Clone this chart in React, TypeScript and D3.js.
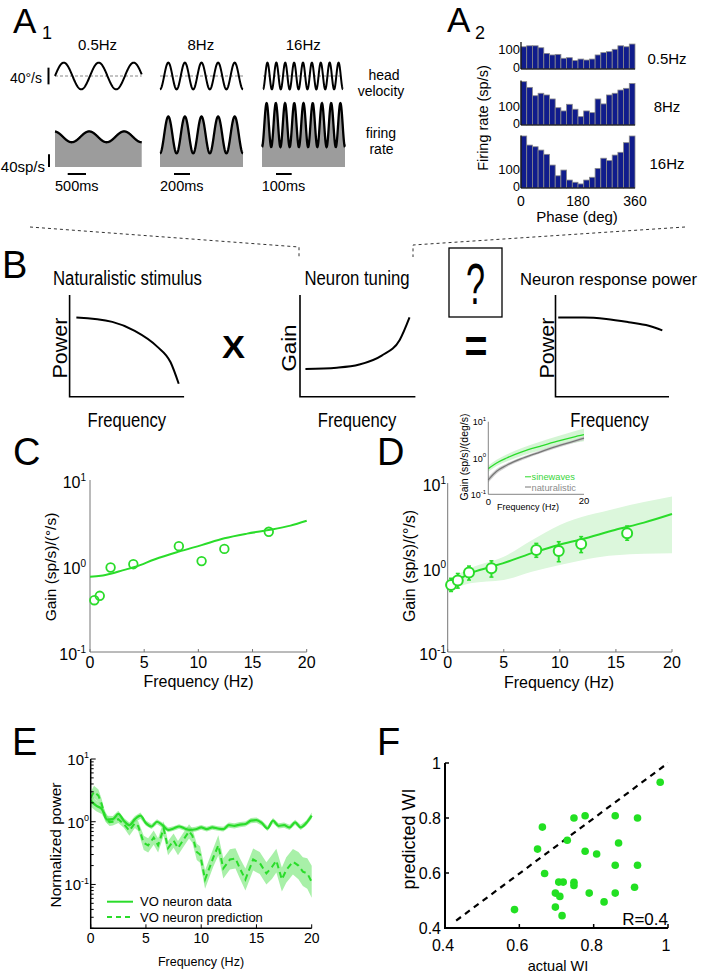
import React, { useRef, useEffect } from 'react';
import * as d3 from 'd3';

const FONT = '"Liberation Sans", Arial, Helvetica, sans-serif';
const GREEN = '#2adc2a';

// A1: stimulus (head velocity) and fitted firing rate per stimulus frequency
const a1Titles = ['0.5Hz', '8Hz', '16Hz'];
const a1Cycles = [2.48, 5, 9];
const a1VelAmp = [32, 32, 32]; // deg/s
const a1VelPhase = [0, -Math.PI / 2, -Math.PI / 2];
const a1RateMean = [95, 101, 132]; // sp/s
const a1RateAmp = [17, 58, 69];
const a1RatePhase = [1.71, -Math.PI / 2, -Math.PI / 2];
const a1TimeBars = ['500ms', '200ms', '100ms'];

// A2: phase histograms, 20 bins of 18 deg
const a2Titles = ['0.5Hz', '8Hz', '16Hz'];
const phaseTicks = [0, 180, 360];
const hist05 = [114, 119, 119, 109, 80, 72, 75, 55, 58, 43, 51, 46, 51, 72, 84, 89, 101, 119, 114, 128];
const hist8 = [228, 198, 154, 167, 158, 137, 91, 74, 109, 83, 44, 74, 65, 137, 111, 158, 167, 184, 193, 219];
const hist16 = [281, 232, 223, 205, 182, 124, 66, 97, 43, 31, 22, 43, 58, 106, 161, 148, 178, 193, 245, 281];

// B: schematic curves (normalised units)
const bStimX = [0.059, 0.373, 0.569, 0.765, 0.882, 0.953];
const bStimY = [0.78, 0.736, 0.648, 0.493, 0.339, 0.128];
const bTuneX = [0.047, 0.319, 0.514, 0.708, 0.864, 0.949];
const bTuneY = [0.273, 0.286, 0.317, 0.405, 0.559, 0.78];
const bRespX = [0.024, 0.249, 0.447, 0.644, 0.822, 0.941];
const bRespY = [0.778, 0.778, 0.764, 0.733, 0.698, 0.653];

// C: example neuron gain
const cFreq = [0.4, 0.9, 1.9, 4.0, 8.2, 10.3, 12.4, 16.5];
const cGain = [0.40, 0.45, 0.96, 1.05, 1.7, 1.14, 1.58, 2.5];
const cFitFreq = [0, 1, 2, 3, 4.2, 6, 8.2, 10.3, 12.4, 14.5, 16.5, 18.5, 20];
const cFitGain = [0.75, 0.77, 0.82, 0.89, 0.98, 1.2, 1.47, 1.75, 2.1, 2.38, 2.62, 2.95, 3.36];

// D: population gain
const dFreq = [0.3, 0.9, 1.9, 3.9, 7.9, 9.9, 11.9, 16];
const dGain = [0.62, 0.70, 0.87, 0.98, 1.61, 1.57, 1.9, 2.54];
const dLow = [0.52, 0.57, 0.71, 0.77, 1.32, 1.17, 1.5, 2.1];
const dHigh = [0.745, 0.85, 1.04, 1.2, 1.93, 2.02, 2.32, 3.1];
const dFitFreq = [0, 0.9, 1.9, 3.9, 4.9, 7.9, 9.9, 11.9, 14.9, 17.5, 20];
const dFitGain = [0.59, 0.71, 0.84, 1.02, 1.12, 1.54, 1.85, 2.15, 2.78, 3.4, 4.3];
const dBandFreq = [0, 2, 5, 7.5, 10, 15, 20];
const dBandLow = [0.52, 0.65, 0.71, 0.89, 1.07, 1.4, 1.47];
const dBandHigh = [0.71, 0.98, 1.34, 2.1, 3.18, 5.0, 6.9];

// D inset
const insFreq = [0, 1.74, 3.83, 7.3, 10.8, 14.3, 17.8, 20];
const insSine = [0.51, 0.73, 1.0, 1.52, 2.1, 2.87, 3.78, 4.39];
const insSineLow = [0.42, 0.6, 0.8, 1.2, 1.6, 2.1, 2.6, 2.9];
const insSineHigh = [0.62, 0.9, 1.25, 1.95, 2.8, 3.9, 5.4, 6.5];
const insNat = [0.25, 0.43, 0.63, 1.0, 1.46, 2.1, 2.87, 3.55];
const insNatLow = [0.21, 0.37, 0.56, 0.9, 1.32, 1.9, 2.6, 3.15];
const insNatHigh = [0.3, 0.5, 0.71, 1.1, 1.62, 2.3, 3.15, 4.0];

// E: normalized power spectra
const eFreq = [0, 0.5, 1, 1.5, 2, 2.5, 3, 3.5, 4, 4.5, 5, 5.5, 6, 6.5, 7, 7.5, 8, 8.5, 9, 9.5, 10,
  10.5, 11, 11.5, 12, 12.5, 13, 13.5, 14, 14.5, 15, 15.5, 16, 16.5, 17, 17.5, 18, 18.5, 19, 19.5, 20];
const eData = [2.17, 1.8, 1.6, 1.08, 1.1, 1.33, 1.04, 0.88, 1.1, 1.25,
  0.95, 0.84, 1.0, 0.88, 0.74, 0.78, 0.84, 0.78, 0.74, 0.76,
  0.81, 0.76, 0.81, 0.78, 0.76, 0.88, 0.86, 0.9, 0.92, 1.04,
  1.06, 0.95, 0.78, 1.04, 0.86, 0.88, 0.81, 0.98, 0.81, 0.95, 1.25];
const eDataSpread = [1.25, 1.22, 1.2, 1.15, 1.12, 1.12, 1.1, 1.1, 1.12, 1.12,
  1.1, 1.1, 1.1, 1.1, 1.09, 1.09, 1.09, 1.09, 1.09, 1.09,
  1.09, 1.09, 1.09, 1.09, 1.09, 1.1, 1.1, 1.1, 1.1, 1.1,
  1.1, 1.1, 1.1, 1.1, 1.1, 1.1, 1.1, 1.1, 1.1, 1.1, 1.12];
const ePredFreq = [0, 0.3, 0.7, 1.0, 1.3, 1.7, 2.0, 2.5, 3.0, 3.5,
  4.0, 4.3, 4.8, 5.2, 5.7, 6.1, 6.6, 7.0, 7.5, 7.9,
  8.4, 8.9, 9.2, 9.6, 9.9, 10.35, 11.1, 11.55, 12.0, 12.6,
  13.1, 13.5, 14.0, 14.7, 15.3, 15.9, 16.4, 16.8, 17.3, 17.7,
  18.3, 18.8, 19.2, 19.6, 20];
const ePred = [2.4, 3.0, 2.6, 1.9, 1.2, 0.98, 1.0, 1.1, 0.92, 0.72,
  0.95, 0.85, 0.46, 0.42, 0.56, 0.42, 0.78, 0.38, 0.5, 0.38,
  0.52, 0.7, 0.6, 0.33, 0.3, 0.12, 0.27, 0.42, 0.18, 0.25,
  0.26, 0.18, 0.12, 0.25, 0.22, 0.15, 0.19, 0.24, 0.12, 0.17,
  0.23, 0.2, 0.16, 0.15, 0.11];
const ePredSpread = [1.25, 1.25, 1.25, 1.2, 1.18, 1.15, 1.15, 1.15, 1.15, 1.2,
  1.2, 1.2, 1.3, 1.3, 1.3, 1.3, 1.3, 1.3, 1.3, 1.3,
  1.3, 1.3, 1.3, 1.35, 1.35, 1.4, 1.4, 1.45, 1.45, 1.45,
  1.45, 1.45, 1.5, 1.5, 1.5, 1.5, 1.55, 1.55, 1.55, 1.6,
  1.6, 1.65, 1.7, 1.75, 1.8];
const eXTicks = [0, 5, 10, 15, 20];

// F: actual vs predicted WI
const fActual = [0.979, 0.662, 0.747, 0.777, 0.858, 0.918, 0.649, 0.729, 0.777, 0.808, 0.867, 0.668, 0.858, 0.918,
  0.706, 0.718, 0.747, 0.747, 0.697, 0.709, 0.788, 0.858, 0.91, 0.828, 0.697, 0.715, 0.587];
const fPredicted = [0.93, 0.767, 0.8, 0.808, 0.808, 0.8, 0.687, 0.719, 0.679, 0.669, 0.709, 0.598, 0.628, 0.628,
  0.567, 0.567, 0.566, 0.555, 0.527, 0.515, 0.527, 0.527, 0.548, 0.495, 0.476, 0.445, 0.467];
const fTicks = [0.4, 0.6, 0.8, 1];

type G = d3.Selection<SVGGElement, unknown, null, undefined>;

const addText = (g: G, x: number, y: number, s: string, size: number, anchor = 'start', fill = '#000') =>
  g.append('text').attr('x', x).attr('y', y).attr('font-size', size)
    .attr('text-anchor', anchor).attr('fill', fill).text(s);

const addVText = (g: G, cx: number, cy: number, s: string, size: number) =>
  g.append('text').attr('transform', `translate(${cx},${cy}) rotate(-90)`)
    .attr('text-anchor', 'middle').attr('dominant-baseline', 'central')
    .attr('font-size', size).text(s);

const addPow = (g: G, x: number, y: number, exp: string, size: number, sup: number) => {
  const t = g.append('text').attr('x', x).attr('y', y).attr('font-size', size).attr('text-anchor', 'end');
  t.append('tspan').text('10');
  t.append('tspan').attr('font-size', sup).attr('dy', -size * 0.45).text(exp);
  return t;
};

const App: React.FC = () => {
  const ref = useRef<SVGSVGElement>(null);

  useEffect(() => {
    const root = d3.select(ref.current);
    root.selectAll('*').remove();
    const svg = root.append('g').attr('font-family', FONT) as unknown as G;

    // ---------- A1 ----------
    const a1 = svg.append('g');
    addText(a1, 13, 33, 'A', 35);
    addText(a1, 42, 39, '1', 18);
    const velX = [[55, 141.7], [160, 243], [263, 343]];
    const rateX = [[55, 141.7], [160, 243], [262, 345]];
    const titleX = [97.5, 200.8, 303.3];
    const barX = [[67.7, 86], [174, 190], [276, 291.7]];
    const barLabelX = [55, 160, 261.7];
    const velY = d3.scaleLinear().domain([-40, 40]).range([92.7, 59.3]);
    const rateY = d3.scaleLinear().domain([0, 40]).range([167, 154.3]);
    a1Titles.forEach((t, i) => {
      addText(a1, titleX[i], 50, t, 15, 'middle');
      const ts = d3.range(401).map(k => (k / 400) * a1Cycles[i]);
      const vx = d3.scaleLinear().domain([0, a1Cycles[i]]).range(velX[i]);
      const rx = d3.scaleLinear().domain([0, a1Cycles[i]]).range(rateX[i]);
      a1.append('line').attr('x1', velX[i][0]).attr('x2', velX[i][1])
        .attr('y1', velY(0)).attr('y2', velY(0))
        .attr('stroke', '#888').attr('stroke-dasharray', '3,2').attr('stroke-width', 1);
      const vel = (u: number) => a1VelAmp[i] * Math.sin(2 * Math.PI * u + a1VelPhase[i]);
      a1.append('path').datum(ts)
        .attr('d', d3.line<number>().x(u => vx(u)).y(u => velY(vel(u))))
        .attr('fill', 'none').attr('stroke', '#000').attr('stroke-width', 2);
      const rate = (u: number) => a1RateMean[i] + a1RateAmp[i] * Math.sin(2 * Math.PI * u + a1RatePhase[i]);
      a1.append('path').datum(ts)
        .attr('d', d3.area<number>().x(u => rx(u)).y0(rateY(0)).y1(u => rateY(rate(u)) - 1))
        .attr('fill', '#9c9c9c');
      a1.append('path').datum(ts)
        .attr('d', d3.line<number>().x(u => rx(u)).y(u => rateY(rate(u))))
        .attr('fill', 'none').attr('stroke', '#000').attr('stroke-width', 2.3);
      a1.append('line').attr('x1', barX[i][0]).attr('x2', barX[i][1]).attr('y1', 174).attr('y2', 174)
        .attr('stroke', '#000').attr('stroke-width', 2);
      addText(a1, barLabelX[i], 191, a1TimeBars[i], 14.5);
    });
    addText(a1, 42, 83, '40°/s', 14, 'end');
    a1.append('line').attr('x1', 48.5).attr('x2', 48.5).attr('y1', velY(20)).attr('y2', velY(-20))
      .attr('stroke', '#000').attr('stroke-width', 2);
    addText(a1, 45, 172, '40sp/s', 15, 'end');
    a1.append('line').attr('x1', 49).attr('x2', 49).attr('y1', rateY(40)).attr('y2', rateY(0))
      .attr('stroke', '#000').attr('stroke-width', 2);
    addText(a1, 384, 80, 'head', 14, 'middle');
    addText(a1, 381, 96, 'velocity', 14, 'middle');
    addText(a1, 381, 138, 'firing', 14, 'middle');
    addText(a1, 381.5, 154, 'rate', 14, 'middle');

    // ---------- A2 ----------
    const a2 = svg.append('g');
    addText(a2, 447, 32, 'A', 35);
    addText(a2, 475, 39, '2', 18);
    const phaseX = d3.scaleLinear().domain([0, 360]).range([521, 635]);
    const hists = [
      { vals: hist05, base: 69, y100: 49.5, top: 42, ly: 64 },
      { vals: hist8, base: 125, y100: 106, top: 80.5, ly: 112 },
      { vals: hist16, base: 188, y100: 169.5, top: 135.5, ly: 169 },
    ];
    hists.forEach((h, k) => {
      const y = d3.scaleLinear().domain([0, 100]).range([h.base, h.y100]);
      a2.selectAll(null).data(h.vals).enter().append('rect')
        .attr('x', (_, i) => phaseX(i * 18))
        .attr('width', phaseX(18) - phaseX(0))
        .attr('y', d => y(d))
        .attr('height', d => h.base - y(d))
        .attr('fill', '#101c8c').attr('stroke', '#8a8a8a').attr('stroke-width', 0.8);
      a2.append('line').attr('x1', 521).attr('x2', 521).attr('y1', h.top).attr('y2', h.base)
        .attr('stroke', '#000').attr('stroke-width', 1.2);
      a2.append('line').attr('x1', 521).attr('x2', 635).attr('y1', h.base).attr('y2', h.base)
        .attr('stroke', '#000').attr('stroke-width', 1.2);
      addText(a2, 520, y(100) + 4.5, '100', 13, 'end');
      addText(a2, 520, h.base + 2.5, '0', 12.5, 'end');
      addText(a2, 667, h.ly, a2Titles[k], 15, 'middle');
    });
    phaseTicks.forEach(p => addText(a2, phaseX(p), 205.5, String(p), 14, 'middle'));
    addText(a2, 577, 222, 'Phase (deg)', 15, 'middle');
    addVText(a2, 483, 118, 'Firing rate (sp/s)', 14.5);

    // connectors
    svg.append('path').attr('d', 'M30,227 L299,247 L299,257')
      .attr('fill', 'none').attr('stroke', '#333').attr('stroke-dasharray', '3,3');
    svg.append('path').attr('d', 'M685,227 L413,245 L413,257')
      .attr('fill', 'none').attr('stroke', '#333').attr('stroke-dasharray', '3,3');

    // ---------- B ----------
    const b = svg.append('g');
    addText(b, 2, 278, 'B', 38);
    const bPanels = [
      { x0: 69.6, x1: 184.1, title: 'Naturalistic stimulus', tx: 53, tl: 149, ts: 20, ylab: 'Power', ylx: 59.5, yl: 61, fx: 126.8, xs: bStimX, ys: bStimY },
      { x0: 300, x1: 415.4, title: 'Neuron tuning', tx: 304.5, tl: 105, ts: 20, ylab: 'Gain', ylx: 288.5, yl: 47, fx: 357, xs: bTuneX, ys: bTuneY },
      { x0: 555.5, x1: 669, title: 'Neuron response power', tx: 520, tl: 177, ts: 17, ylab: 'Power', ylx: 546.8, yl: 61, fx: 609.6, xs: bRespX, ys: bRespY },
    ];
    bPanels.forEach(p => {
      const x = d3.scaleLinear().domain([0, 1]).range([p.x0, p.x1]);
      const y = d3.scaleLinear().domain([0, 1]).range([396.8, 295]);
      b.append('path').attr('d', `M${p.x0},295 L${p.x0},396.8 L${p.x1},396.8`)
        .attr('fill', 'none').attr('stroke', '#000').attr('stroke-width', 1.6);
      b.append('path').datum(p.xs.map((v, i) => [v, p.ys[i]] as [number, number]))
        .attr('d', d3.line().x(d => x(d[0])).y(d => y(d[1])).curve(d3.curveMonotoneX))
        .attr('fill', 'none').attr('stroke', '#000').attr('stroke-width', 2);
      addText(b, p.tx, 285, p.title, p.ts).attr('textLength', p.tl).attr('lengthAdjust', 'spacingAndGlyphs');
      addVText(b, p.ylx, 348, p.ylab, 20).attr('textLength', p.yl).attr('lengthAdjust', 'spacingAndGlyphs');
      addText(b, p.fx, 426.5, 'Frequency', 20, 'middle').attr('textLength', 78.5).attr('lengthAdjust', 'spacingAndGlyphs');
    });
    addText(b, 233.5, 358, 'X', 32, 'middle').attr('font-weight', 'bold')
      .attr('textLength', 23).attr('lengthAdjust', 'spacingAndGlyphs');
    b.append('rect').attr('x', 449).attr('y', 248).attr('width', 53).attr('height', 69)
      .attr('fill', 'none').attr('stroke', '#000').attr('stroke-width', 1.3);
    addText(b, 475.5, 304, '?', 58, 'middle').attr('textLength', 19).attr('lengthAdjust', 'spacingAndGlyphs');
    addText(b, 476, 362, '=', 46, 'middle').attr('font-weight', 'bold')
      .attr('textLength', 23).attr('lengthAdjust', 'spacingAndGlyphs');

    // ---------- C ----------
    const c = svg.append('g');
    addText(c, 13, 465, 'C', 38);
    const cx = d3.scaleLinear().domain([0, 20]).range([90, 306.7]);
    const cy = d3.scaleLog().domain([0.1, 10]).range([652, 480]);
    c.append('path').attr('d', `M90,480 L90,652 L306.7,652`).attr('fill', 'none').attr('stroke', '#777').attr('stroke-width', 1);
    eXTicks.forEach(t => {
      c.append('line').attr('x1', cx(t)).attr('x2', cx(t)).attr('y1', 652).attr('y2', 649).attr('stroke', '#777');
      addText(c, cx(t), 668, String(t), 16, 'middle');
    });
    [[10, '1'], [1, '0'], [0.1, '-1']].forEach(([v, e]) => addPow(c, 86, cy(v as number) + 8, e as string, 16, 10));
    addText(c, 198.5, 687, 'Frequency (Hz)', 16, 'middle');
    addVText(c, 50, 567, 'Gain (sp/s)/(°/s)', 15.5);
    c.append('path').datum(cFitFreq.map((f, i) => [f, cFitGain[i]] as [number, number]))
      .attr('d', d3.line().x(d => cx(d[0])).y(d => cy(d[1])).curve(d3.curveMonotoneX))
      .attr('fill', 'none').attr('stroke', GREEN).attr('stroke-width', 2);
    c.selectAll(null).data(cFreq).enter().append('circle')
      .attr('cx', d => cx(d)).attr('cy', (_, i) => cy(cGain[i])).attr('r', 4.3)
      .attr('fill', 'none').attr('stroke', GREEN).attr('stroke-width', 1.8);

    // ---------- D ----------
    const d = svg.append('g');
    addText(d, 377, 465, 'D', 38);
    const dx = d3.scaleLinear().domain([0, 20]).range([447.7, 672]);
    const dy = d3.scaleLog().domain([0.1, 10]).range([652, 483]);
    d.append('path').datum(dBandFreq.map((f, i) => [f, dBandLow[i], dBandHigh[i]]))
      .attr('d', d3.area<number[]>().x(v => dx(v[0])).y0(v => dy(v[1])).y1(v => dy(v[2])).curve(d3.curveMonotoneX))
      .attr('fill', '#dcf7dc');
    d.append('path').attr('d', `M447.7,483 L447.7,652 L672,652`).attr('fill', 'none').attr('stroke', '#777').attr('stroke-width', 1);
    eXTicks.forEach(t => {
      d.append('line').attr('x1', dx(t)).attr('x2', dx(t)).attr('y1', 652).attr('y2', 649).attr('stroke', '#777');
      addText(d, dx(t), 668, String(t), 16, 'middle');
    });
    [[10, '1'], [1, '0'], [0.1, '-1']].forEach(([v, e]) => addPow(d, 446, dy(v as number) + 8, e as string, 16, 10));
    addText(d, 559, 688, 'Frequency (Hz)', 16, 'middle');
    addVText(d, 409, 566, 'Gain (sp/s)/(°/s)', 16);
    d.append('path').datum(dFitFreq.map((f, i) => [f, dFitGain[i]] as [number, number]))
      .attr('d', d3.line().x(v => dx(v[0])).y(v => dy(v[1])).curve(d3.curveMonotoneX))
      .attr('fill', 'none').attr('stroke', GREEN).attr('stroke-width', 2);
    dFreq.forEach((f, i) => {
      d.append('line').attr('x1', dx(f)).attr('x2', dx(f)).attr('y1', dy(dLow[i])).attr('y2', dy(dHigh[i]))
        .attr('stroke', GREEN).attr('stroke-width', 2);
      [dLow[i], dHigh[i]].forEach(v => d.append('line').attr('x1', dx(f) - 2).attr('x2', dx(f) + 2)
        .attr('y1', dy(v)).attr('y2', dy(v)).attr('stroke', GREEN).attr('stroke-width', 1.5));
      d.append('circle').attr('cx', dx(f)).attr('cy', dy(dGain[i])).attr('r', 5)
        .attr('fill', '#fff').attr('stroke', GREEN).attr('stroke-width', 2);
    });

    // inset
    const ix = d3.scaleLinear().domain([0, 20]).range([488.3, 584]);
    const iy = d3.scaleLog().domain([0.1, 10]).range([494.3, 421.7]);
    const band = (lo: number[], hi: number[]) => insFreq.map((f, i) => [f, lo[i], hi[i]]);
    d.append('path').datum(band(insSineLow, insSineHigh))
      .attr('d', d3.area<number[]>().x(v => ix(v[0])).y0(v => iy(v[1])).y1(v => iy(v[2])).curve(d3.curveMonotoneX))
      .attr('fill', '#cdf3cd').attr('opacity', 0.85);
    d.append('path').datum(band(insNatLow, insNatHigh))
      .attr('d', d3.area<number[]>().x(v => ix(v[0])).y0(v => iy(v[1])).y1(v => iy(v[2])).curve(d3.curveMonotoneX))
      .attr('fill', '#c4c4c4').attr('opacity', 0.8);
    [[insSine, GREEN], [insNat, '#777']].forEach(([vals, col]) => {
      d.append('path').datum(insFreq.map((f, i) => [f, (vals as number[])[i]] as [number, number]))
        .attr('d', d3.line().x(v => ix(v[0])).y(v => iy(v[1])).curve(d3.curveMonotoneX))
        .attr('fill', 'none').attr('stroke', col as string).attr('stroke-width', 1.3);
    });
    d.append('path').attr('d', `M488.3,421.7 L488.3,494.3 L584,494.3`).attr('fill', 'none').attr('stroke', '#666').attr('stroke-width', 0.8);
    [[10, '1'], [1, '0'], [0.1, '-1']].forEach(([v, e]) => addPow(d, 486, iy(v as number) + 3.5, e as string, 9, 6));
    addText(d, ix(0), 504.5, '0', 9.5, 'middle');
    addText(d, ix(20), 504, '20', 9.5, 'middle');
    addText(d, 528, 510, 'Frequency (Hz)', 9, 'middle');
    addVText(d, 464, 457, 'Gain (sp/s)/(deg/s)', 10.5);
    d.append('line').attr('x1', 525).attr('x2', 531).attr('y1', 476.8).attr('y2', 476.8).attr('stroke', GREEN).attr('stroke-width', 1);
    addText(d, 531.5, 480, 'sinewaves', 9.3, 'start', '#3ad63a');
    d.append('line').attr('x1', 525).attr('x2', 531).attr('y1', 487).attr('y2', 487).attr('stroke', '#777').attr('stroke-width', 1);
    addText(d, 531.5, 490.5, 'naturalistic', 9.3, 'start', '#8c8c8c');

    // ---------- E ----------
    const e = svg.append('g');
    addText(e, 12, 755, 'E', 38);
    const ex = d3.scaleLinear().domain([0, 20]).range([90.7, 311.7]);
    const ey = d3.scaleLog().domain([0.02, 10]).range([928.3, 759]);
    const bandArea = d3.area<number[]>().x(v => ex(v[0])).y0(v => ey(v[1] / v[2])).y1(v => ey(v[1] * v[2]));
    e.append('path').datum(ePredFreq.map((f, i) => [f, ePred[i], ePredSpread[i] ?? 1.5]))
      .attr('d', bandArea).attr('fill', '#6ee66e').attr('opacity', 0.6);
    e.append('path').datum(eFreq.map((f, i) => [f, eData[i], eDataSpread[i] ?? 1.1]))
      .attr('d', bandArea).attr('fill', '#6ee66e').attr('opacity', 0.6);
    e.append('path').datum(ePredFreq.map((f, i) => [f, ePred[i]] as [number, number]))
      .attr('d', d3.line().x(v => ex(v[0])).y(v => ey(v[1])))
      .attr('fill', 'none').attr('stroke', GREEN).attr('stroke-width', 2).attr('stroke-dasharray', '6,4');
    e.append('path').datum(eFreq.map((f, i) => [f, eData[i]] as [number, number]))
      .attr('d', d3.line().x(v => ex(v[0])).y(v => ey(v[1])).curve(d3.curveMonotoneX))
      .attr('fill', 'none').attr('stroke', GREEN).attr('stroke-width', 2.2);
    e.append('path').attr('d', `M90.7,759 L90.7,928.3 L311.7,928.3`).attr('fill', 'none').attr('stroke', '#000').attr('stroke-width', 1.5);
    [-2, -1, 0].forEach(p => d3.range(1, 10).forEach(m => {
      const v = m * Math.pow(10, p);
      if (v < 0.02 || v > 10) return;
      e.append('line').attr('x1', 90.7).attr('x2', 90.7 + (m === 1 ? 5 : 3)).attr('y1', ey(v)).attr('y2', ey(v))
        .attr('stroke', '#000').attr('stroke-width', 1);
    }));
    e.append('line').attr('x1', 90.7).attr('x2', 95.7).attr('y1', ey(10)).attr('y2', ey(10)).attr('stroke', '#000');
    eXTicks.forEach(t => {
      e.append('line').attr('x1', ex(t)).attr('x2', ex(t)).attr('y1', 928.3).attr('y2', 924.3).attr('stroke', '#000');
      addText(e, ex(t), 943, String(t), 14, 'middle');
    });
    [[10, '1'], [1, '0'], [0.1, '-1']].forEach(([v, ex2]) => addPow(e, 89, ey(v as number) + 6, ex2 as string, 15, 9));
    addText(e, 201, 966, 'Frequency (Hz)', 12.5, 'middle');
    addVText(e, 55, 845, 'Normalized power', 15.5);
    e.append('line').attr('x1', 107).attr('x2', 133).attr('y1', 901.7).attr('y2', 901.7).attr('stroke', GREEN).attr('stroke-width', 2);
    e.append('line').attr('x1', 107).attr('x2', 133).attr('y1', 917).attr('y2', 917).attr('stroke', GREEN)
      .attr('stroke-width', 2).attr('stroke-dasharray', '5,4');
    addText(e, 140, 906, 'VO neuron data', 13);
    addText(e, 140, 922, 'VO neuron prediction', 13);

    // ---------- F ----------
    const f = svg.append('g');
    addText(f, 377, 755, 'F', 38);
    const fx = d3.scaleLinear().domain([0.4, 1]).range([445, 668]);
    const fy = d3.scaleLinear().domain([0.4, 1]).range([928, 763]);
    f.append('line').attr('x1', fx(0.43)).attr('y1', fy(0.427)).attr('x2', fx(1)).attr('y2', fy(1))
      .attr('stroke', '#000').attr('stroke-width', 2.2).attr('stroke-dasharray', '6,5');
    f.selectAll(null).data(fActual).enter().append('circle')
      .attr('cx', v => fx(v)).attr('cy', (_, i) => fy(fPredicted[i])).attr('r', 3.8).attr('fill', '#22e022');
    f.append('path').attr('d', `M445,763 L445,928 L668,928`).attr('fill', 'none').attr('stroke', '#000').attr('stroke-width', 2);
    fTicks.forEach(t => {
      f.append('line').attr('x1', fx(t)).attr('x2', fx(t)).attr('y1', 928).attr('y2', 924).attr('stroke', '#000').attr('stroke-width', 1.5);
      f.append('line').attr('x1', 445).attr('x2', 449).attr('y1', fy(t)).attr('y2', fy(t)).attr('stroke', '#000').attr('stroke-width', 1.5);
      addText(f, 441, fy(t) + 6, String(t), 16, 'end');
      addText(f, fx(t) - 2, 950.7, String(t), 16, 'middle');
    });
    addText(f, 668, 925, 'R=0.4', 17, 'end');
    addVText(f, 409, 839, 'predicted WI', 18);
    addText(f, 558, 971, 'actual WI', 14.5, 'middle');
  }, []);

  return (
    <svg ref={ref} width={704} height={973}
      style={{ position: 'absolute', left: 0, top: 0, background: '#fff' }} />
  );
};

export default App;
